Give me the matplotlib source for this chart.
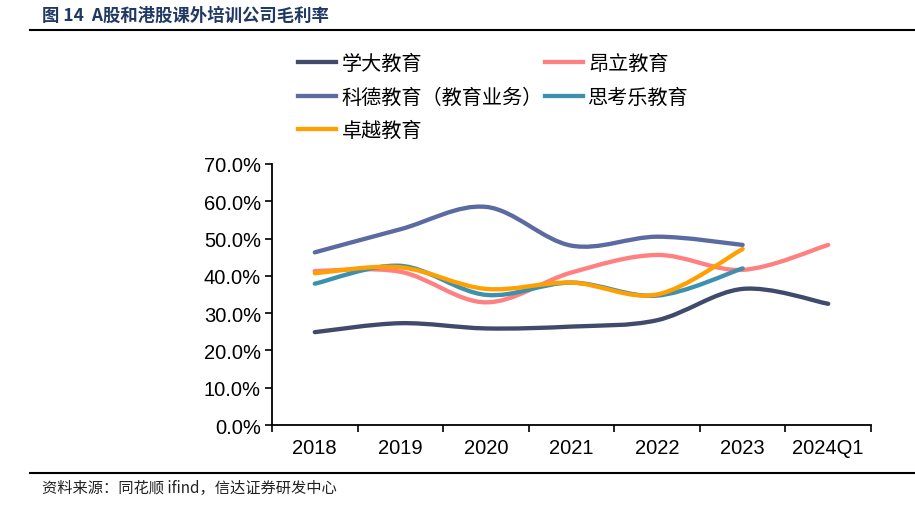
import numpy as np
import matplotlib.pyplot as plt
from matplotlib.path import Path
from matplotlib.patches import PathPatch
from matplotlib.lines import Line2D
from matplotlib.ticker import FuncFormatter, FixedLocator

plt.rcParams['font.family'] = ['Liberation Sans', 'Noto Sans CJK SC', 'DejaVu Sans']

# === Data (gross margin, %) ===
years = ['2018', '2019', '2020', '2021', '2022', '2023', '2024Q1']
xueda = [24.9, 27.3, 25.9, 26.4, 28.1, 36.5, 32.5]
angli = [41.3, 41.1, 32.9, 40.9, 45.6, 41.6, 48.3]
kede = [46.3, 52.5, 58.5, 48.1, 50.5, 48.3]
sikaole = [37.9, 42.7, 34.9, 38.2, 34.7, 42.0]
zhuoyue = [40.7, 42.3, 36.5, 38.2, 35.0, 47.2]

series = {
    '学大教育': (xueda, '#404a6b'),
    '昂立教育': (angli, '#ff8080'),
    '科德教育（教育业务）': (kede, '#5b6aa0'),
    '思考乐教育': (sikaole, '#3d91ae'),
    '卓越教育': (zhuoyue, '#ffa000'),
}
draw_order = ['学大教育', '昂立教育', '科德教育（教育业务）', '思考乐教育', '卓越教育']
# legend is filled row by row in the original, matplotlib fills by column
legend_order = ['学大教育', '科德教育（教育业务）', '卓越教育', '昂立教育', '思考乐教育']


def smooth_path(xs, ys):
    # Excel-like smoothed line: cubic Bezier segments through each point
    pts = np.column_stack([xs, ys]).astype(float)
    n = len(pts)
    verts = [pts[0]]
    codes = [Path.MOVETO]
    for i in range(n - 1):
        p0 = pts[i - 1] if i > 0 else pts[i]
        p1 = pts[i]
        p2 = pts[i + 1]
        p3 = pts[i + 2] if i + 2 < n else pts[i + 1]
        c1 = p1 + (p2 - p0) / 6.0
        c2 = p2 - (p3 - p1) / 6.0
        verts += [c1, c2, p2]
        codes += [Path.CURVE4] * 3
    return Path(verts, codes)


fig = plt.figure(figsize=(9.15, 5.1), dpi=100)
ax = fig.add_axes([272 / 915, 1 - 426 / 510, 599 / 915, 261 / 510])

handles = {}
for name in draw_order:
    vals, color = series[name]
    xs = np.arange(len(vals)) + 0.5
    patch = PathPatch(smooth_path(xs, vals), facecolor='none', edgecolor=color,
                      lw=3.1, capstyle='round', joinstyle='round')
    ax.add_patch(patch)
    handles[name] = Line2D([], [], color=color, lw=3.1, label=name)

ax.set_xlim(0, len(years))
ax.set_ylim(0, 70)
ax.yaxis.set_major_locator(FixedLocator(np.arange(0, 71, 10)))
ax.yaxis.set_major_formatter(FuncFormatter(lambda v, p: f'{v:.1f}%'))
ax.xaxis.set_major_locator(FixedLocator(np.arange(0, len(years) + 1)))
ax.xaxis.set_minor_locator(FixedLocator(np.arange(len(years)) + 0.5))
ax.xaxis.set_major_formatter(FuncFormatter(lambda v, p: ''))
ax.set_xticklabels(years, minor=True)
ax.tick_params(axis='x', which='major', direction='out', length=5, width=1.2)
ax.tick_params(axis='x', which='minor', length=0, pad=9, labelsize=14.5)
ax.tick_params(axis='y', direction='out', length=5, width=1.2, pad=3, labelsize=14.5)
for s in ['top', 'right']:
    ax.spines[s].set_visible(False)
for s in ['left', 'bottom']:
    ax.spines[s].set_linewidth(1.3)

fig.legend(handles=[handles[n] for n in legend_order], ncol=2, loc='upper left',
           bbox_to_anchor=(280 / 915, 1 - 36 / 510),
           frameon=False, handlelength=1.9, handletextpad=0.25,
           columnspacing=0.1, labelspacing=0.62,
           prop={'family': ['Noto Sans CJK SC'], 'size': 14.5})

# header, rules and source note
fig.text(42 / 915, 1 - 16 / 510, '图 14  A股和港股课外培训公司毛利率', fontsize=12.5,
         fontweight='bold', color='#1f3864', va='center', family=['Noto Sans CJK SC'])
fig.add_artist(Line2D([30 / 915, 1], [1 - 31 / 510] * 2, color='black', lw=1.5))
fig.add_artist(Line2D([30 / 915, 1], [1 - 474 / 510] * 2, color='black', lw=1.5))
fig.text(42 / 915, 1 - 488 / 510, '资料来源：同花顺 ifind，信达证券研发中心', fontsize=11,
         color='#222222', va='center', family=['Noto Sans CJK SC'], style='italic')

fig.savefig('out.png', dpi=100)
